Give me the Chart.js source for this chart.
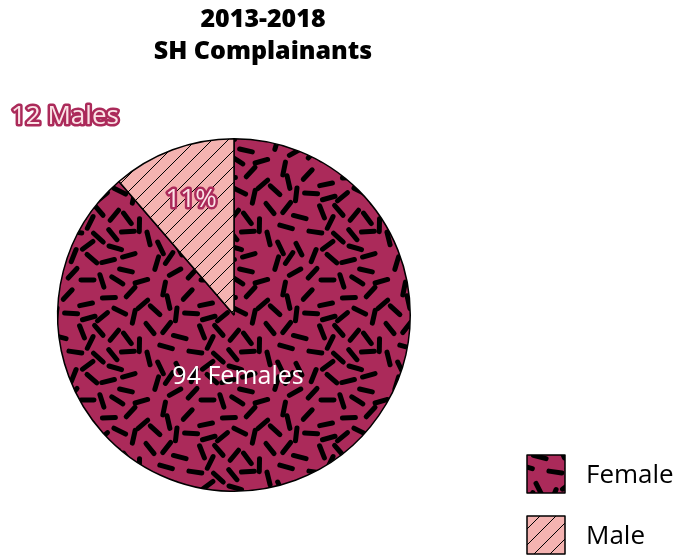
<!DOCTYPE html>
<html>
<head>
<meta charset="utf-8">
<script src="https://cdn.jsdelivr.net/npm/chart.js@4.4.1/dist/chart.umd.min.js"></script>
<style>
  html, body { margin: 0; padding: 0; background: #fff; }
  #wrap { width: 678px; height: 555px; }
</style>
</head>
<body>
<div id="wrap"><canvas id="pie" width="678" height="555"></canvas></div>
<script>
const titleLines = ['2013-2018', 'SH Complainants'];
const categories = ['Female', 'Male'];
const counts = [94, 12];
const sliceLabels = ['94 Females', '11%'];
const outsideLabel = '12 Males';

const CRIMSON = '#AB2A5A';
const PINK = '#F4B3B1';
const FONT = '"Open Sans", "Noto Sans", sans-serif';

// speckled pattern for the female slice
function dashPattern() {
  const size = 120;
  const c = document.createElement('canvas');
  c.width = size; c.height = size;
  const g = c.getContext('2d');
  g.fillStyle = CRIMSON;
  g.fillRect(0, 0, size, size);
  g.strokeStyle = '#000';
  g.lineWidth = 5;
  g.lineCap = 'round';
  let k = 0;
  const rnd = () => {
    k++;
    const v = Math.sin(k * 12.9898 + 78.233) * 43758.5453;
    return v - Math.floor(v);
  };
  const pts = [];
  let tries = 0;
  while (pts.length < 46 && tries < 5000) {
    tries++;
    const a = rnd() * Math.PI;
    const x = rnd() * size, y = rnd() * size;
    let ok = true;
    for (const p of pts) {
      let dx = Math.abs(p[0] - x), dy = Math.abs(p[1] - y);
      dx = Math.min(dx, size - dx); dy = Math.min(dy, size - dy);
      if (dx * dx + dy * dy < 13 * 13) { ok = false; break; }
    }
    if (ok) pts.push([x, y, a]);
  }
  for (const [x, y, a] of pts) {
    const dx = Math.cos(a) * 6.5, dy = Math.sin(a) * 6.5;
    for (const ox of [-size, 0, size]) {
      for (const oy of [-size, 0, size]) {
        g.beginPath();
        g.moveTo(x + ox - dx, y + oy - dy);
        g.lineTo(x + ox + dx, y + oy + dy);
        g.stroke();
      }
    }
  }
  return g.createPattern(c, 'repeat');
}

// diagonal hatch for the male slice
function hatchPattern() {
  const s = 16;
  const c = document.createElement('canvas');
  c.width = s; c.height = s;
  const g = c.getContext('2d');
  g.fillStyle = PINK;
  g.fillRect(0, 0, s, s);
  g.strokeStyle = '#000';
  g.lineWidth = 1;
  g.beginPath();
  g.moveTo(-1, s + 1); g.lineTo(s + 1, -1);
  g.moveTo(-1, 1); g.lineTo(1, -1);
  g.moveTo(s - 1, s + 1); g.lineTo(s + 1, s - 1);
  g.stroke();
  return g.createPattern(c, 'repeat');
}

const fills = [dashPattern(), hatchPattern()];

function outlinedText(ctx, text, x, y) {
  ctx.lineJoin = 'round';
  ctx.strokeStyle = CRIMSON;
  ctx.lineWidth = 5;
  ctx.strokeText(text, x, y);
  ctx.fillStyle = '#FBE3E6';
  ctx.fillText(text, x, y);
}

const overlay = {
  id: 'overlay',
  afterDraw(chart) {
    const ctx = chart.ctx;
    const area = chart.chartArea;
    const arc = chart.getDatasetMeta(0).data;
    const cx = (area.left + area.right) / 2;
    const cy = (area.top + area.bottom) / 2;
    ctx.save();

    // title
    ctx.fillStyle = '#000';
    ctx.font = '800 25px ' + FONT;
    ctx.textAlign = 'center';
    ctx.textBaseline = 'middle';
    ctx.fillText(titleLines[0], 263, 20);
    ctx.fillText(titleLines[1], 263, 52);

    // female label
    ctx.font = '400 25px ' + FONT;
    ctx.fillStyle = '#fff';
    ctx.fillText(sliceLabels[0], cx + 4, cy + 62);

    // male percent, placed along the slice bisector
    const m = arc[1];
    const mid = (m.startAngle + m.endAngle) / 2;
    const rr = m.outerRadius * 0.7;
    ctx.font = '500 26px ' + FONT;
    outlinedText(ctx, sliceLabels[1], m.x + Math.cos(mid) * rr, m.y + Math.sin(mid) * rr);

    ctx.textAlign = 'left';
    outlinedText(ctx, outsideLabel, 11, 117);

    // legend
    ctx.font = '400 26px ' + FONT;
    categories.forEach((name, i) => {
      const y = 455 + i * 61;
      ctx.fillStyle = fills[i];
      ctx.fillRect(527, y, 38, 38);
      ctx.strokeStyle = '#000';
      ctx.lineWidth = 1.5;
      ctx.strokeRect(527, y, 38, 38);
      ctx.fillStyle = '#000';
      ctx.fillText(name, 586, y + 21);
    });
    ctx.restore();
  }
};

new Chart(document.getElementById('pie'), {
  type: 'pie',
  data: {
    labels: categories,
    datasets: [{
      data: counts,
      backgroundColor: fills,
      borderColor: '#000',
      borderWidth: 1.5
    }]
  },
  options: {
    responsive: false,
    animation: false,
    layout: { padding: { left: 57, right: 267, top: 138, bottom: 63 } },
    plugins: {
      legend: { display: false },
      title: { display: false },
      tooltip: { enabled: false }
    }
  },
  plugins: [overlay]
});
</script>
</body>
</html>
